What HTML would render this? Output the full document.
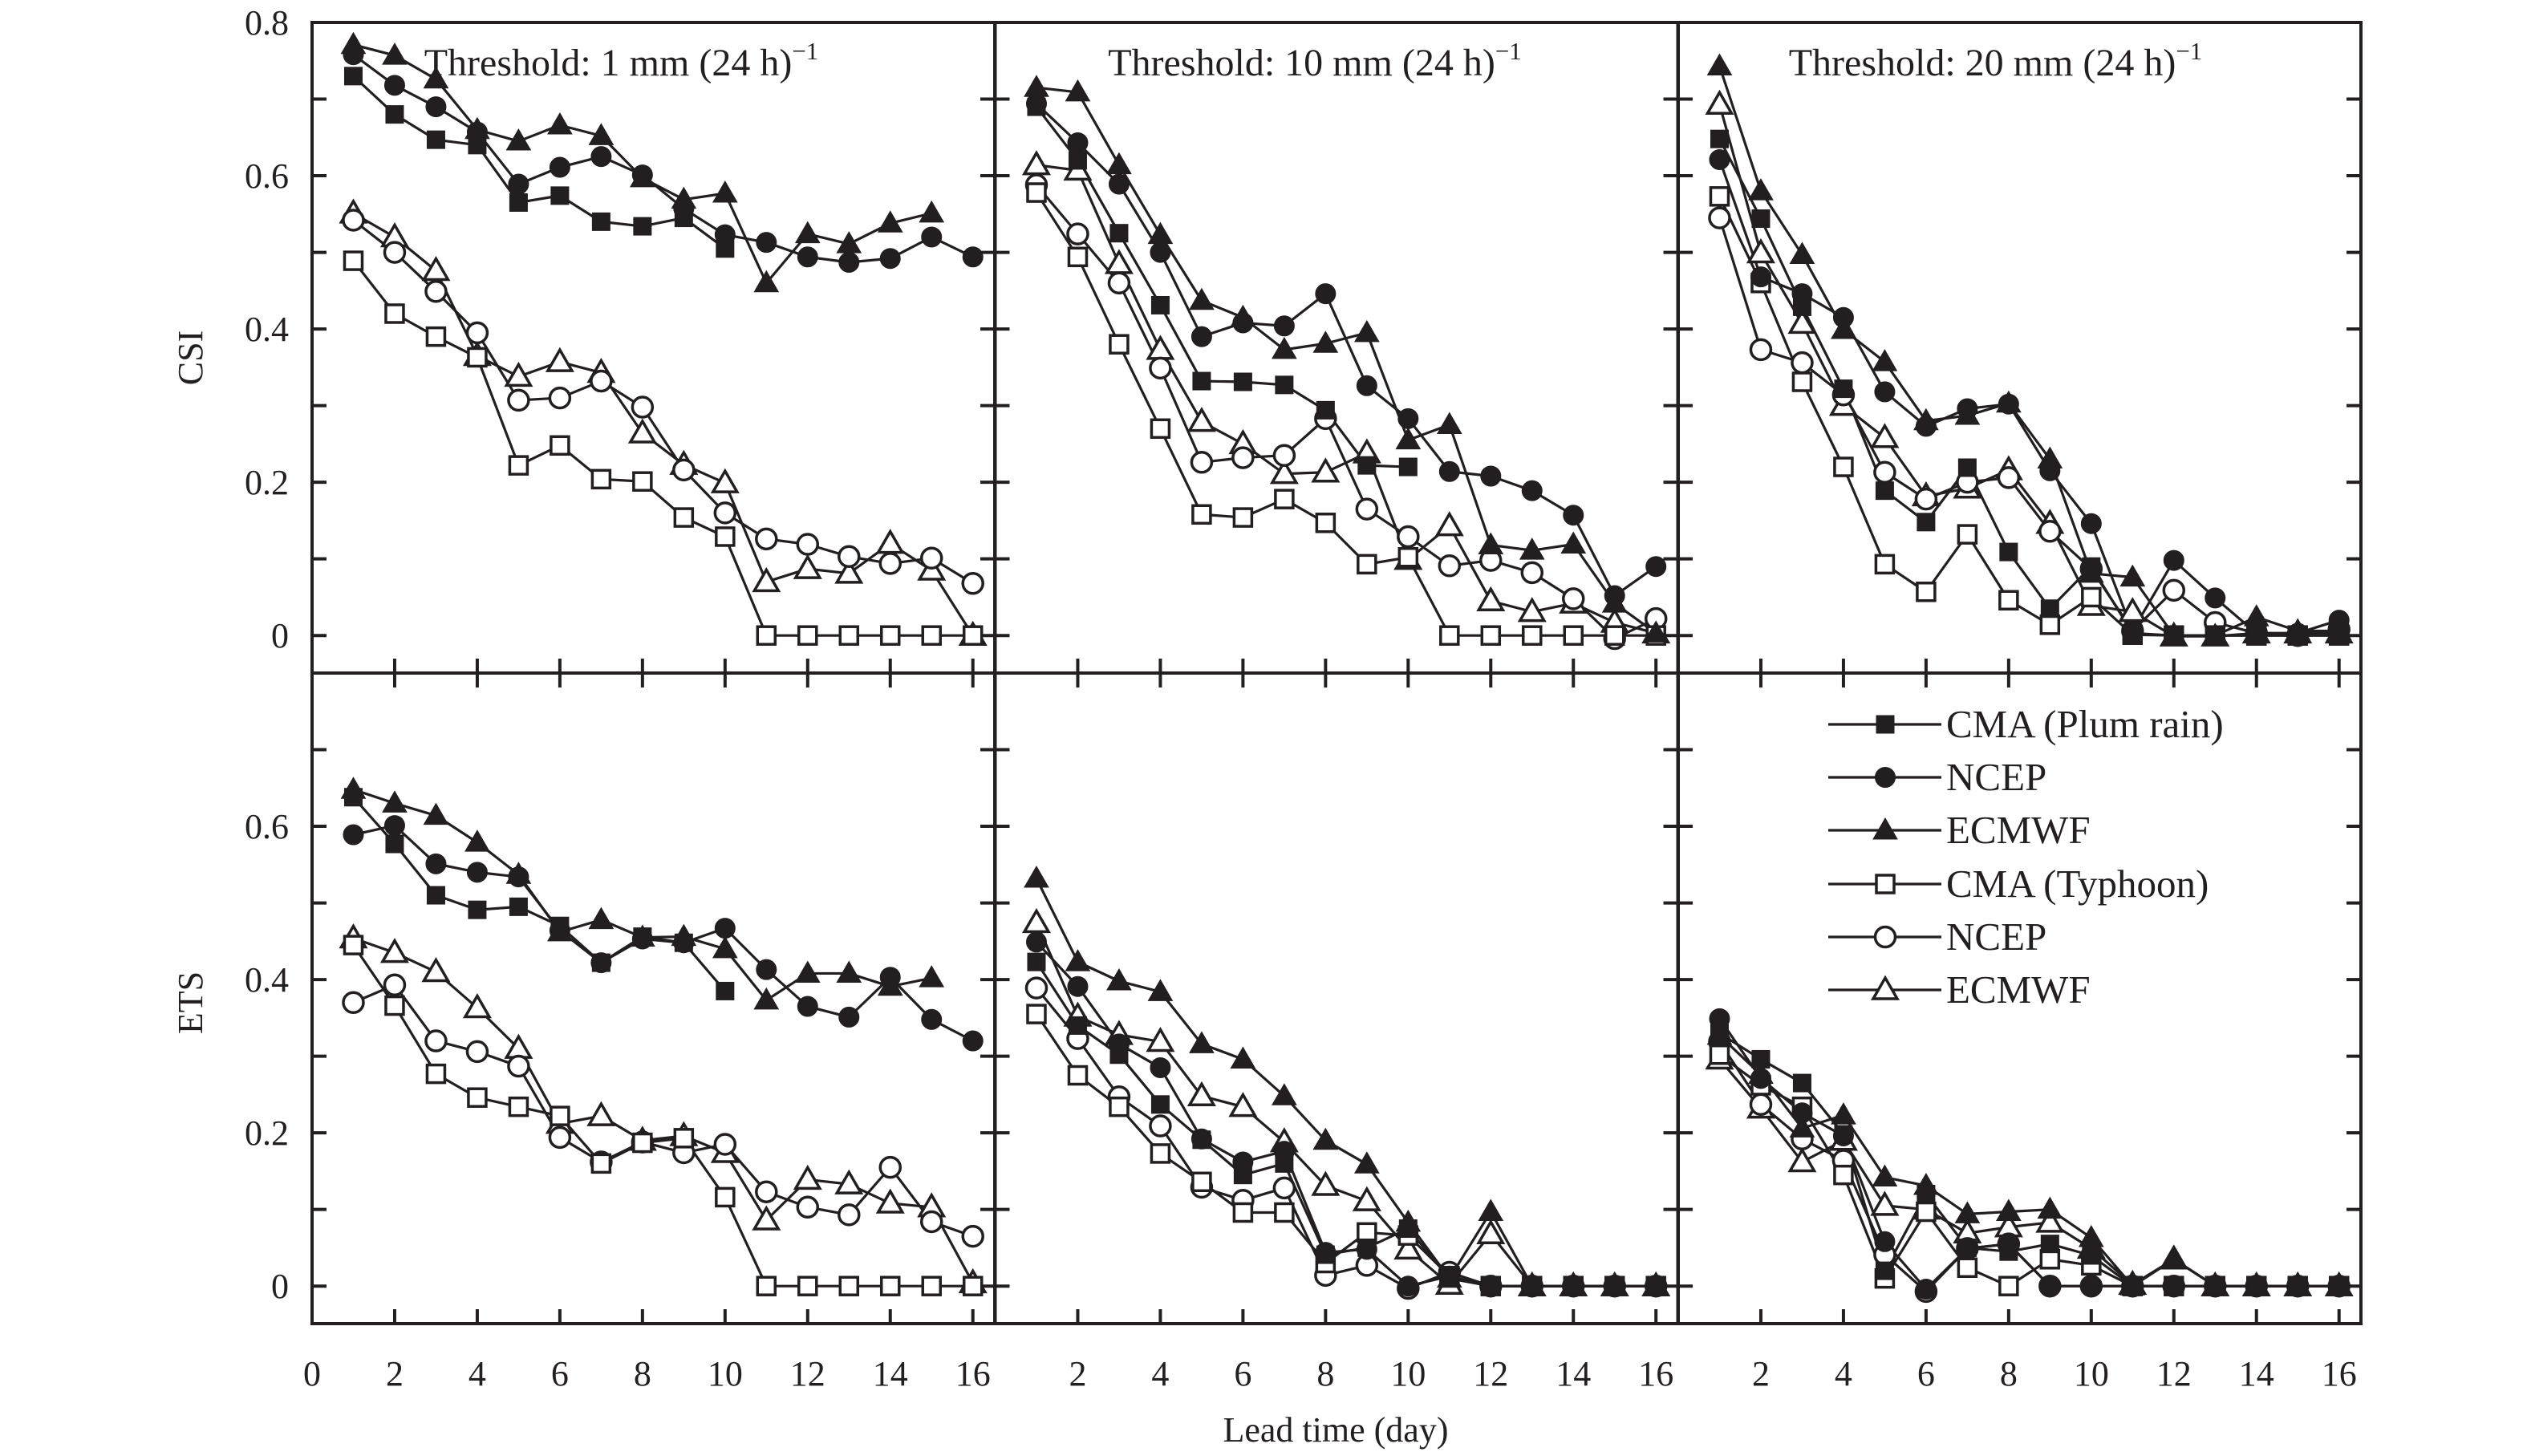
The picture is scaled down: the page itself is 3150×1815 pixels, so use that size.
<!DOCTYPE html>
<html><head><meta charset="utf-8">
<style>
html,body{margin:0;padding:0;background:#fff;}
svg{display:block;}
text{font-family:"Liberation Serif",serif;fill:#231f20;}
</style></head>
<body>
<svg id="chart" width="3150" height="1815" viewBox="0 0 3150 1815" xmlns="http://www.w3.org/2000/svg"></svg>
<script>
const days = [1,2,3,4,5,6,7,8,9,10,11,12,13,14,15,16];
const seriesNames = ["CMA (Plum rain)","NCEP","ECMWF","CMA (Typhoon)","NCEP","ECMWF"];
const seriesKeys = ["cma-plum","ncep-plum","ecmwf-plum","cma-typhoon","ncep-typhoon","ecmwf-typhoon"];
const thresholds = ["1","10","20"];
const yTickLabelsCSI = ["0","0.2","0.4","0.6","0.8"];
const yTickValuesCSI = [0,0.2,0.4,0.6,0.8];
const yTickLabelsETS = ["0","0.2","0.4","0.6"];
const yTickValuesETS = [0,0.2,0.4,0.6];
const xTickValues = [0,2,4,6,8,10,12,14,16];

// CSI, threshold 1 mm
const csi1CmaPlum = [.73,.68,.647,.64,.565,.574,.54,.534,.545,.505];
const csi1NcepPlum = [.758,.718,.69,.657,.589,.611,.625,.601,.557,.523,.513,.494,.487,.492,.52,.494];
const csi1EcmwfPlum = [.771,.757,.726,.66,.645,.666,.652,.597,.569,.577,.46,.524,.511,.538,.551];
const csi1CmaTyph = [.489,.42,.39,.363,.222,.248,.204,.201,.154,.129,0,0,0,0,0,0];
const csi1NcepTyph = [.542,.5,.449,.395,.307,.31,.332,.298,.216,.16,.126,.119,.103,.094,.101,.068];
const csi1EcmwfTyph = [.551,.52,.476,.365,.338,.357,.343,.264,.223,.199,.07,.087,.081,.12,.085,0];
// CSI, threshold 10 mm
const csi10CmaPlum = [.69,.62,.525,.431,.332,.331,.327,.294,.222,.22];
const csi10NcepPlum = [.694,.643,.589,.5,.39,.408,.404,.446,.326,.283,.214,.208,.189,.157,.052,.09];
const csi10EcmwfPlum = [.715,.709,.614,.523,.437,.415,.373,.381,.395,.255,.275,.118,.111,.119,.042,.003];
const csi10CmaTyph = [.578,.494,.38,.27,.158,.154,.178,.147,.093,.102,0,0,0,0,0,0];
const csi10NcepTyph = [.588,.524,.46,.349,.226,.232,.235,.283,.165,.129,.091,.098,.082,.048,-.004,.022];
const csi10EcmwfTyph = [.614,.607,.485,.373,.279,.25,.211,.213,.238,.099,.143,.045,.031,.042,.017,.003];
// CSI, threshold 20 mm
const csi20CmaPlum = [.648,.544,.429,.322,.189,.148,.219,.109,.035,.09,.003,0,0,0,0,0];
const csi20NcepPlum = [.621,.468,.446,.415,.318,.273,.296,.302,.215,.146,.006,.098,.049,.003,.003,.02];
const csi20EcmwfPlum = [.743,.58,.497,.399,.357,.28,.287,.303,.23,.081,.076,0,0,.024,.006,.006];
const csi20CmaTyph = [.573,.46,.331,.22,.093,.057,.132,.046,.014,.05,.001,0,0,0,0,0];
const csi20NcepTyph = [.545,.373,.356,.314,.213,.178,.2,.206,.136,.087,.006,.059,.017,.003,0,.008];
const csi20EcmwfTyph = [.693,.499,.407,.3,.258,.182,.192,.216,.146,.039,.031,-.001,-.001,.003,.003,.003];
// ETS, threshold 1 mm
const ets1CmaPlum = [.638,.577,.51,.491,.495,.47,.422,.456,.448,.385];
const ets1NcepPlum = [.589,.601,.551,.54,.534,.464,.422,.453,.448,.467,.413,.365,.351,.403,.348,.32];
const ets1EcmwfPlum = [.648,.63,.614,.579,.537,.462,.478,.455,.456,.44,.373,.408,.408,.391,.402];
const ets1CmaTyph = [.445,.366,.277,.246,.234,.222,.16,.187,.193,.116,0,0,0,0,0,0];
const ets1NcepTyph = [.37,.393,.32,.306,.287,.194,.162,.188,.174,.185,.123,.103,.093,.155,.084,.065];
const ets1EcmwfTyph = [.454,.435,.41,.363,.31,.212,.222,.19,.196,.174,.086,.139,.133,.108,.103,.004];
// ETS, threshold 10 mm
const ets10CmaPlum = [.423,.34,.302,.237,.191,.145,.16,.041,.05,.075,.01,0,0,0,0,0];
const ets10NcepPlum = [.449,.391,.316,.285,.192,.162,.176,.044,.048,0,.013,0,0,0,0,0];
const ets10EcmwfPlum = [.532,.423,.398,.384,.316,.296,.248,.19,.159,.083,.01,.097,0,0,0,0];
const ets10CmaTyph = [.355,.275,.234,.173,.136,.096,.096,.03,.07,.066,.013,0,0,0,0,0];
const ets10NcepTyph = [.389,.323,.247,.209,.129,.112,.128,.014,.027,-.003,.018,0,0,0,0,0];
const ets10EcmwfTyph = [.474,.352,.328,.319,.248,.234,.188,.131,.111,.048,.002,.068,0,0,0,0];
// ETS, threshold 20 mm
const ets20CmaPlum = [.33,.296,.265,.198,.02,.12,.05,.045,.055,.04,0,0,0,0,0,0];
const ets20NcepPlum = [.349,.271,.226,.196,.058,-.004,.049,.055,0,0,0,0,0,0,0,0];
const ets20EcmwfPlum = [.327,.276,.206,.223,.142,.131,.094,.097,.1,.063,0,.035,0,0,0,0];
const ets20CmaTyph = [.302,.262,.234,.145,.01,.097,.024,0,.035,.027,0,0,0,0,0,0];
const ets20NcepTyph = [.319,.237,.192,.164,.041,-.007,.049,.055,0,0,0,0,0,0,0,0];
const ets20EcmwfTyph = [.296,.232,.162,.19,.105,.1,.069,.077,.083,.049,.002,.035,0,0,0,0];

const panelData = [
  [csi1CmaPlum,csi1NcepPlum,csi1EcmwfPlum,csi1CmaTyph,csi1NcepTyph,csi1EcmwfTyph],
  [csi10CmaPlum,csi10NcepPlum,csi10EcmwfPlum,csi10CmaTyph,csi10NcepTyph,csi10EcmwfTyph],
  [csi20CmaPlum,csi20NcepPlum,csi20EcmwfPlum,csi20CmaTyph,csi20NcepTyph,csi20EcmwfTyph],
  [ets1CmaPlum,ets1NcepPlum,ets1EcmwfPlum,ets1CmaTyph,ets1NcepTyph,ets1EcmwfTyph],
  [ets10CmaPlum,ets10NcepPlum,ets10EcmwfPlum,ets10CmaTyph,ets10NcepTyph,ets10EcmwfTyph],
  [ets20CmaPlum,ets20NcepPlum,ets20EcmwfPlum,ets20CmaTyph,ets20NcepTyph,ets20EcmwfTyph]
];

const NS = "http://www.w3.org/2000/svg";
const svg = document.getElementById("chart");
const INK = "#231f20";
const PL = [389, 1240.5, 2092];
const PW = 851;
const PT = [28, 839];
const PH = 811;
const XMAX = 16.53, YMIN = -0.049, YMAX = 0.8;
const titleOffsets = [-40, -27, -30];
function xScale(p, d){ return PL[p % 3] + d / XMAX * PW; }
function yScale(p, v){ const r = p < 3 ? 0 : 1; return PT[r] + (YMAX - v) / (YMAX - YMIN) * PH; }

function mk(tag, attrs, parent){
  const e = document.createElementNS(NS, tag);
  for (const k in attrs) e.setAttribute(k, attrs[k]);
  (parent || svg).appendChild(e);
  return e;
}
function marker(g, kind, cx, cy){
  const fill = kind < 3 ? INK : "#fff";
  const shape = kind % 3;
  let m;
  if (shape === 0) m = mk("rect", {x:cx-11, y:cy-11, width:22, height:22}, g);
  else if (shape === 1) m = mk("circle", {cx:cx, cy:cy, r:12.5}, g);
  else m = mk("polygon", {points:`${cx},${cy-15} ${cx+15},${cy+11} ${cx-15},${cy+11}`}, g);
  m.setAttribute("fill", fill);
  m.setAttribute("stroke", INK);
  m.setAttribute("stroke-width", kind < 3 ? "1" : "3.5");
  
  
}

for (let p = 0; p < 6; p++){
  const g = mk("g", {});
  
  
  const x0 = PL[p % 3], y0 = PT[p < 3 ? 0 : 1];
  for (let t = 0; t <= 7; t++){
    const y = yScale(p, t / 10);
    const tl = mk("line", {x1:x0, x2:x0+18, y1:y, y2:y, stroke:INK, "stroke-width":4}, g);
    
    
    const tr = mk("line", {x1:x0+PW, x2:x0+PW-18, y1:y, y2:y, stroke:INK, "stroke-width":4}, g);
    
    
  }
  for (const d of xTickValues){
    if (d === 0) continue;
    const x = xScale(p, d);
    const tb = mk("line", {x1:x, x2:x, y1:y0+PH, y2:y0+PH-18, stroke:INK, "stroke-width":4}, g);
    
    
    if (p >= 3){
      const tt = mk("line", {x1:x, x2:x, y1:y0, y2:y0+18, stroke:INK, "stroke-width":4}, g);
      
      
    }
  }
  const data = panelData[p];
  for (let s = 0; s < 6; s++){
    const vals = data[s];
    const sg = mk("g", {}, g);
    
    
    const pts = vals.map((v, i) => xScale(p, days[i]) + "," + yScale(p, v)).join(" ");
    const pl = mk("polyline", {points:pts, fill:"none", stroke:INK, "stroke-width":3.2, "stroke-linejoin":"round"}, sg);
    
    
  }
  for (let s = 5; s >= 0; s--){
    const vals = data[s];
    const sg = mk("g", {}, g);
    
    
    vals.forEach((v, i) => marker(sg, s, xScale(p, days[i]), yScale(p, v)));
  }
  const frame = mk("rect", {x:x0, y:y0, width:PW, height:PH, fill:"none", stroke:INK, "stroke-width":4}, g);
  
  
  if (p < 3){
    const tt = mk("text", {x:x0 + PW/2 + titleOffsets[p], y:94, "font-size":48, "text-anchor":"middle"}, g);
    
    
    tt.innerHTML = "Threshold: " + thresholds[p] + " mm (24 h)<tspan font-size='31' dy='-20'>−1</tspan>";
  }
  for (const d of xTickValues){
    if (p < 3) continue;
    if (d === 0 && p !== 3) continue;
    const lt = mk("text", {x:xScale(p, d), y:1727, "font-size":44, "text-anchor":"middle"}, g);
    
    
    lt.textContent = String(d);
  }
  if (p % 3 === 0){
    const labs = p < 3 ? yTickLabelsCSI : yTickLabelsETS;
    const vals = p < 3 ? yTickValuesCSI : yTickValuesETS;
    labs.forEach((lab, i) => {
      const lt = mk("text", {x:360, y:yScale(p, vals[i]) + 15, "font-size":44, "text-anchor":"end"}, g);
      
      
      lt.textContent = lab;
    });
  }
}
const csiT = mk("text", {x:0, y:0, "font-size":44, "text-anchor":"middle", transform:"translate(252,446) rotate(-90)"});


csiT.textContent = "CSI";
const etsT = mk("text", {x:0, y:0, "font-size":44, "text-anchor":"middle", transform:"translate(252,1250) rotate(-90)"});


etsT.textContent = "ETS";
const xT = mk("text", {x:1665, y:1797, "font-size":44, "text-anchor":"middle"});


xT.textContent = "Lead time (day)";
const lg = mk("g", {});


const legendRows = [903, 969, 1035, 1102, 1168, 1234];
seriesNames.forEach((nm, s) => {
  const y = legendRows[s];
  const eg = mk("g", {}, lg);
  
  
  mk("line", {x1:2279, x2:2420, y1:y, y2:y, stroke:INK, "stroke-width":3.2}, eg);
  marker(eg, s, 2350, y);
  const t = mk("text", {x:2426, y:y + 16, "font-size":49}, eg);
  
  
  t.textContent = nm;
});
</script>
</body></html>
